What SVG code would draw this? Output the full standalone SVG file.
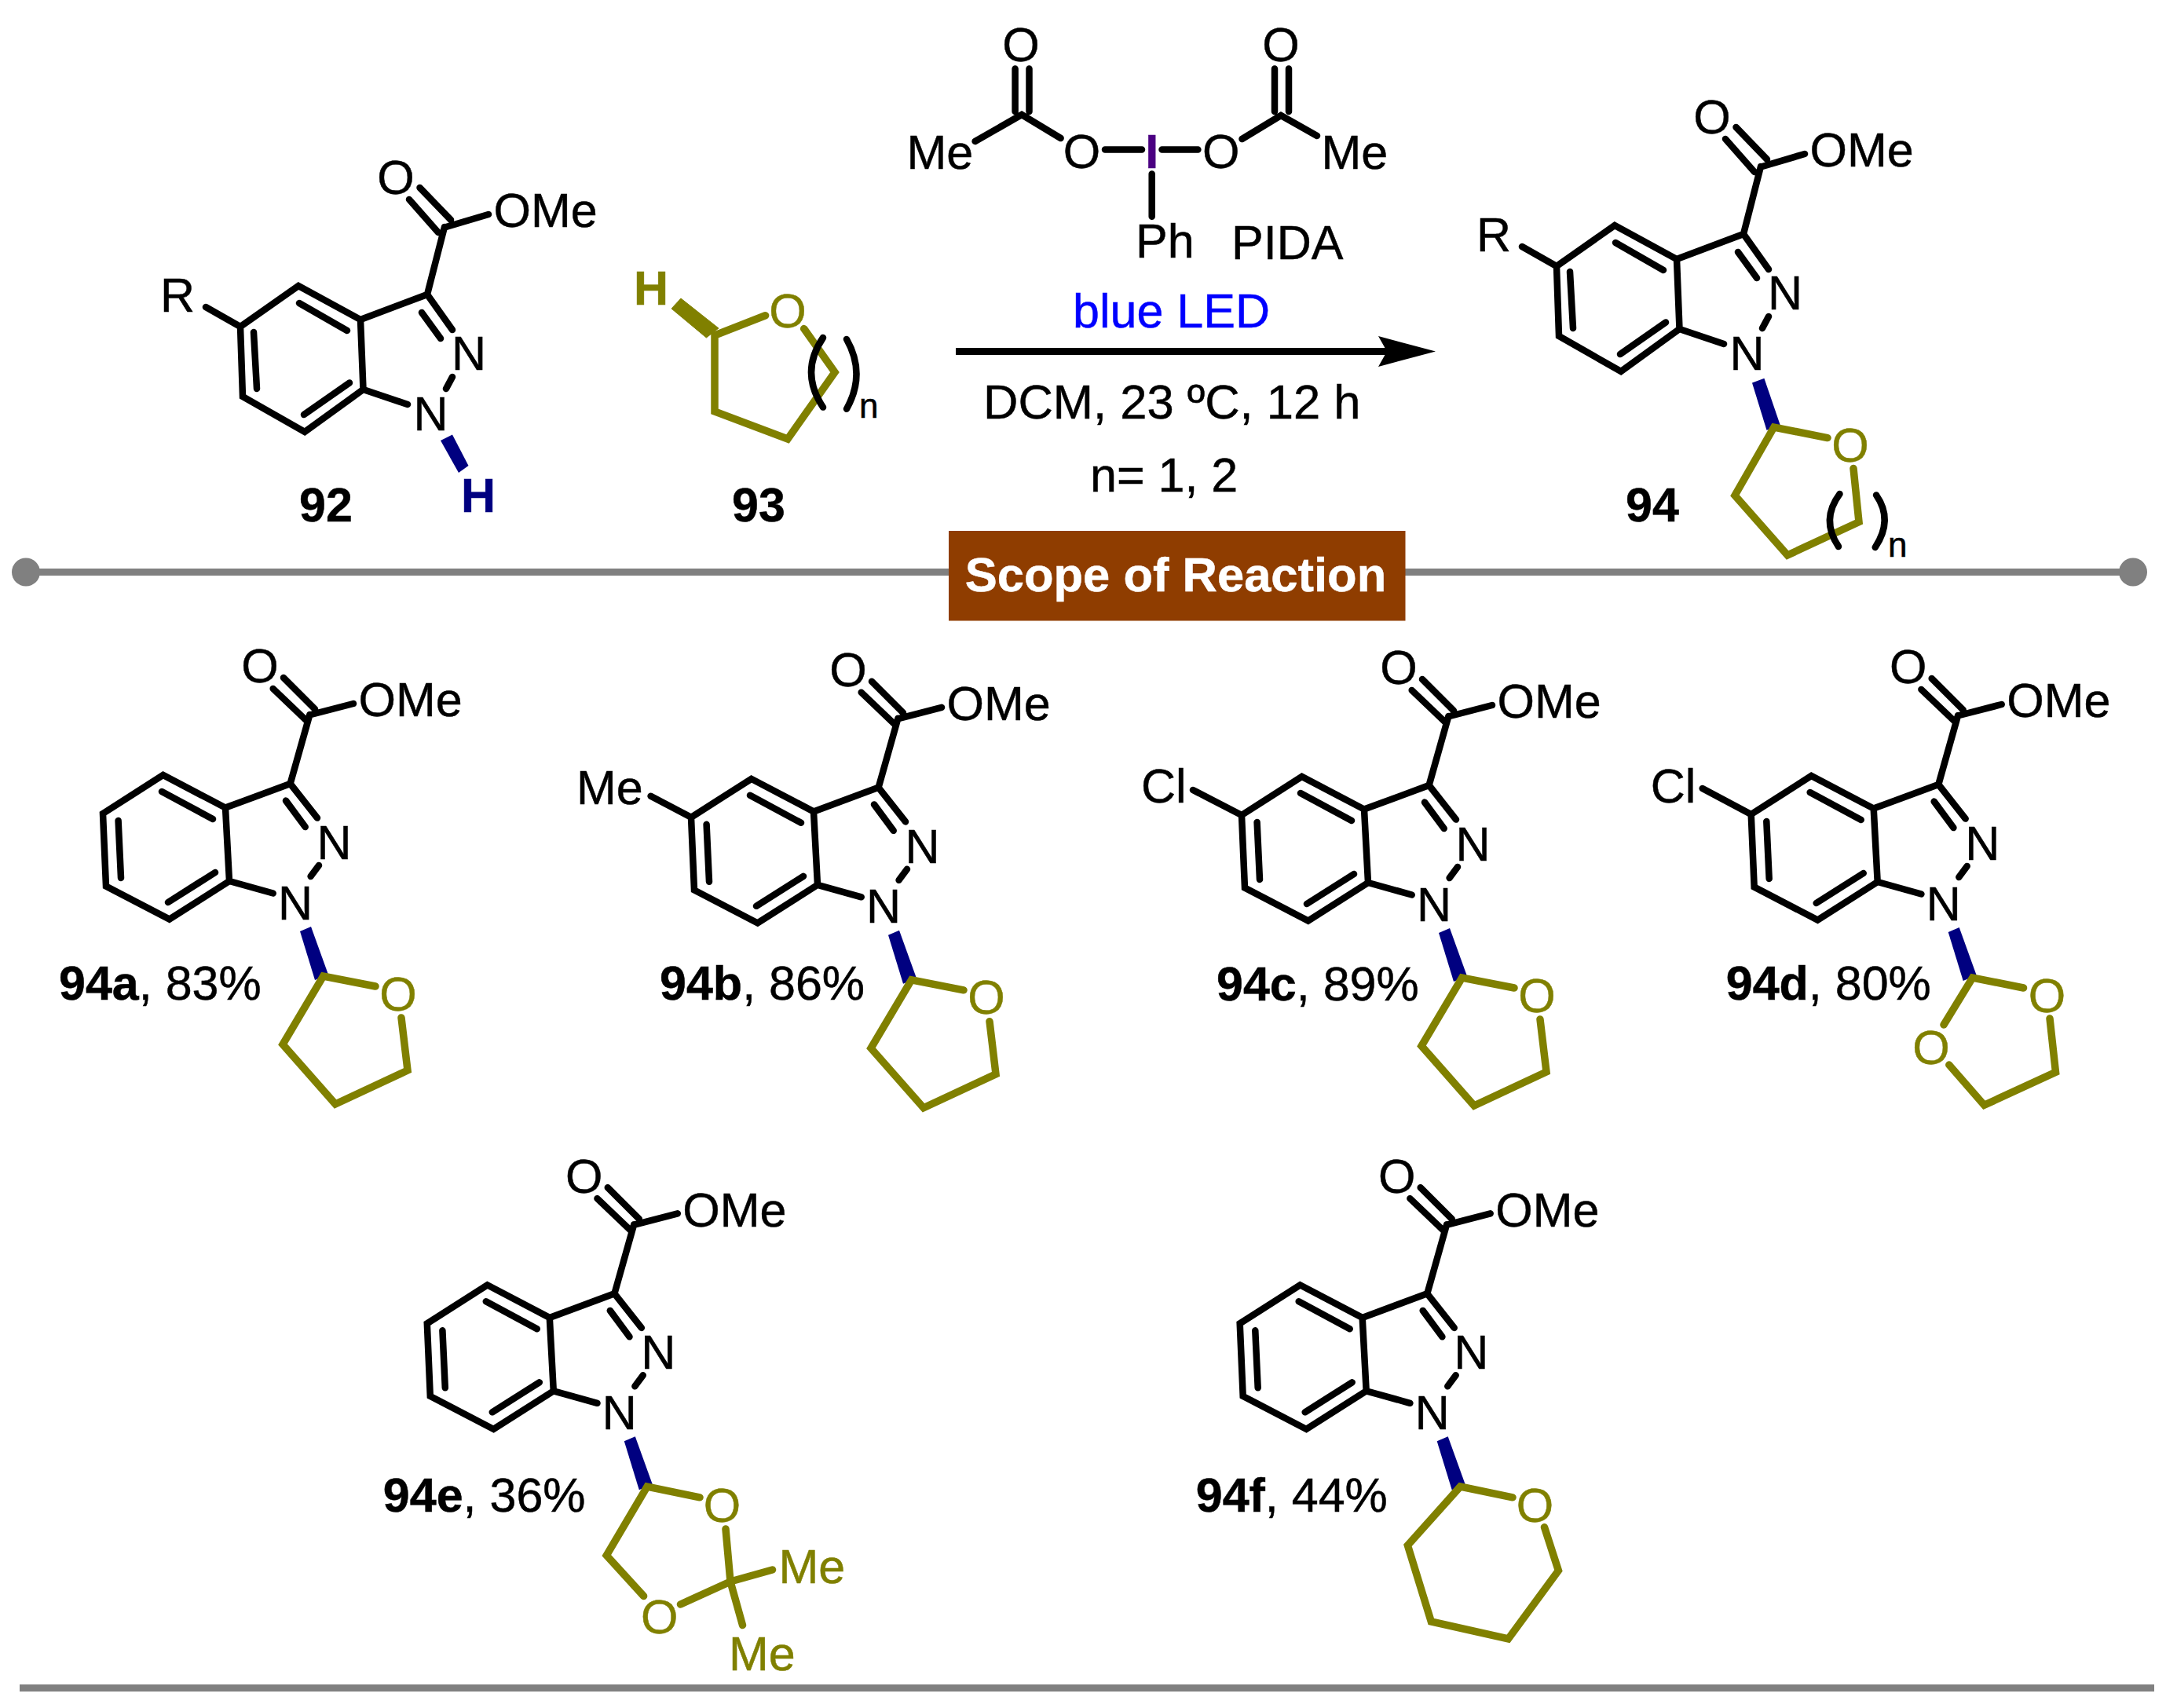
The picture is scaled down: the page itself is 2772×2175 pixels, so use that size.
<svg xmlns="http://www.w3.org/2000/svg" xmlns:xlink="http://www.w3.org/1999/xlink" width="2772" height="2175" viewBox="0 0 2772 2175">
<style>
text{font-family:"Liberation Sans",Arial,sans-serif;font-size:61px;fill:#000;stroke:#000;stroke-width:.5}
.b{font-weight:700}
.m{text-anchor:middle}
.ol{fill:#808000;stroke:#808000}
.nv{fill:#000080;stroke:#000080}
.sm{font-size:44px}
.bk,.og{fill:none;stroke-linecap:round;stroke-linejoin:miter}
.bk{stroke:#000;stroke-width:8.500}
.og{stroke:#808000;stroke-width:9.500}
.wd{fill:#000080}
.gr{stroke:#808080;stroke-width:9;fill:none}
</style>
<defs>
<path id="coreA" class="bk" d="M131 1036L207.700 987L287 1028.600L292 1122L215.700 1170.600L135 1128.600ZM287 1028.600L369.600 998L394.400 910M369.600 998L404 1041.600M364 1019.600L388.700 1053M406 1102L395.600 1116M292 1122L347.700 1137.500M206 1008L271 1043M150.600 1045L154 1118M214 1149L274 1111M390.600 918L347.700 877M401 903L361 863M396 910L450 896"/>
<path id="coreB" class="bk" d="M306 416L380 364L459 407L462.500 496L388 550L309 505ZM262 391L306 416M459 407L544 375L566 289M544 375L576 420M537 398L561 431M576 480L568 495M462.500 496L519 515M381 386L442 421M323 423L327 495M387 528L445 487.500M558 296L521 254M574 280L534.500 239M568 289L622 273"/>
<path id="thf" class="og" d="M478 1256L411.600 1243L360 1330L427 1406L519 1363L511 1296"/>
<polygon id="wedge" class="wd" points="382,1186 396,1180 418,1241 401,1248"/>
</defs>

<g id="connectors">
<line id="rule-top" class="gr" x1="33" y1="728.500" x2="2716" y2="728.500"/>
<circle cx="33" cy="728.500" r="18" fill="#808080"/>
<circle cx="2716" cy="728.500" r="18" fill="#808080"/>
<line id="rule-bottom" class="gr" x1="25" y1="2149.500" x2="2743" y2="2149.500"/>
<g id="reaction-arrow">
<rect x="1217" y="443" width="550" height="9" fill="#000"/>
<polygon points="1828,447.500 1755,428 1766,447.500 1755,467" fill="#000"/>
</g>
</g>

<g id="scope-banner">
<rect x="1208" y="676" width="581.500" height="114.500" fill="#8f3d00"/>
<text class="b m" x="1497" y="752.500" style="fill:#fff;stroke:#fff;font-size:61.500px">Scope of Reaction</text>
</g>

<g id="n92">
<use href="#coreB"/>
<polygon class="wd" points="561,561 576,553.500 596.500,593 584,602"/>
<text class="m" x="504" y="247">O</text>
<text x="628.500" y="289">OMe</text>
<text x="204" y="397">R</text>
<text class="m" x="597" y="471">N</text>
<text class="m" x="548.500" y="548">N</text>
<text class="m b nv" x="609" y="652">H</text>
<text class="b m" x="415" y="664">92</text>
</g>

<g id="n93">
<polygon class="ol" points="867,380 855,393 899.400,430 915,418"/>
<path class="og" d="M974.600 401.800L910 427L910 524L1003 559L1063 474L1023.700 418.600"/>
<path class="bk" d="M1048 430Q1018 474 1048 518.600M1078 432Q1103 476 1078 520.700"/>
<text class="ol b" x="807" y="387.500">H</text>
<text class="m ol" x="1003" y="417">O</text>
<text class="sm" x="1094" y="532">n</text>
<text class="b m" x="966" y="664">93</text>
</g>

<g id="pida">
<path class="bk" d="M1292.600 87.500L1292.600 142M1310.500 87.500L1310.500 142M1241.600 180L1301 146L1350.600 176M1407 190.500L1454 190.500M1479.500 190.500L1525.400 190.500M1466.700 221.400L1466.700 275.700M1623 87.500L1623 142M1641 87.500L1641 142M1581.500 177L1631 147L1677 173"/>
<text class="m" x="1300" y="78">O</text>
<text class="m" x="1631" y="78">O</text>
<text x="1154.500" y="215">Me</text>
<text class="m" x="1377.400" y="214">O</text>
<text class="m b" x="1466.700" y="213.600" style="fill:#4b0082;stroke:#4b0082">I</text>
<text class="m" x="1554.700" y="214">O</text>
<text x="1682.500" y="215">Me</text>
<text x="1446" y="328">Ph</text>
<text x="1568" y="330">PIDA</text>
</g>

<g id="conditions">
<text x="1366" y="417" style="fill:#0000ff;stroke:#0000ff">blue LED</text>
<text x="1252" y="533" style="font-size:61.500px">DCM, 23 ºC, 12 h</text>
<text x="1388" y="626">n= 1, 2</text>
</g>

<g id="n94">
<use href="#coreB" transform="translate(1676,-77)"/>
<polygon class="wd" points="2231,487.500 2246.400,481.700 2267,542 2249.500,547.800"/>
<path class="og" d="M2327 557.600L2258.800 544L2209 631L2276 707L2367 664.700L2360 596.400"/>
<path class="bk" d="M2342.500 629Q2318 662 2341 696M2389 630.400Q2411 662 2387.700 697"/>
<text class="m" x="2180" y="170">O</text>
<text x="2304.500" y="212">OMe</text>
<text x="1880" y="320">R</text>
<text class="m" x="2273" y="394">N</text>
<text class="m" x="2224.500" y="471">N</text>
<text class="m ol" x="2356" y="587.500">O</text>
<text class="sm" x="2404" y="709">n</text>
<text class="b m" x="2104" y="663.500">94</text>
</g>

<g id="n94a">
<use href="#coreA"/><use href="#wedge"/><use href="#thf"/>
<text class="m" x="331" y="869">O</text>
<text x="456.500" y="912">OMe</text>
<text class="m" x="425.500" y="1094">N</text>
<text class="m" x="376" y="1170.600">N</text>
<text class="m ol" x="507" y="1286.500">O</text>
<text x="75" y="1273"><tspan class="b">94a</tspan>, 83%</text>
</g>

<g id="n94b" transform="translate(749,4.800)">
<use href="#coreA"/><use href="#wedge"/><use href="#thf"/>
<text class="m" x="331" y="869">O</text>
<text x="456.500" y="912">OMe</text>
<text class="m" x="425.500" y="1094">N</text>
<text class="m" x="376" y="1170.600">N</text>
<text class="m ol" x="507" y="1286.500">O</text>
<path class="bk" d="M79.600 1009L131 1036"/>
<text x="-15" y="1019.700">Me</text>
<text x="91" y="1268.700"><tspan class="b">94b</tspan>, 86%</text>
</g>

<g id="n94c" transform="translate(1450,2)">
<use href="#coreA"/><use href="#wedge"/><use href="#thf"/>
<text class="m" x="331" y="869">O</text>
<text x="456.500" y="912">OMe</text>
<text class="m" x="425.500" y="1094">N</text>
<text class="m" x="376" y="1170.600">N</text>
<text class="m ol" x="507" y="1286.500">O</text>
<path class="bk" d="M69 1004L131 1036"/>
<text x="3" y="1019.600">Cl</text>
<text x="99" y="1271.500"><tspan class="b">94c</tspan>, 89%</text>
</g>

<g id="n94d" transform="translate(2098.700,1)">
<use href="#coreA"/><use href="#wedge"/>
<path class="og" d="M477.800 1257L413 1244L376.300 1304M383.100 1355L427.800 1406.300L518.800 1364.300L511.300 1296"/>
<text class="m" x="331" y="869">O</text>
<text x="456.500" y="912">OMe</text>
<text class="m" x="425.500" y="1094">N</text>
<text class="m" x="376" y="1170.600">N</text>
<text class="m ol" x="507.700" y="1287.600">O</text>
<text class="m ol" x="360.300" y="1354">O</text>
<path class="bk" d="M69 1003L131 1036"/>
<text x="3" y="1020.600">Cl</text>
<text x="99" y="1271.600"><tspan class="b">94d</tspan>, 80%</text>
</g>

<g id="n94e" transform="translate(412.800,649.300)">
<use href="#coreA"/><use href="#wedge"/>
<path class="og" d="M478.200 1257.500L411.200 1243.700L359.500 1331.400L406.800 1383.200M453.700 1393.700L517.200 1364.700L511.200 1297.700M517.200 1364.700L570.700 1349.700M517.200 1364.700L532.700 1420.200"/>
<text class="m" x="331" y="870">O</text>
<text x="456.500" y="913">OMe</text>
<text class="m" x="425.500" y="1094">N</text>
<text class="m" x="376" y="1170.600">N</text>
<text class="m ol" x="506.800" y="1288.400">O</text>
<text class="m ol" x="426.900" y="1430.400">O</text>
<text class="ol" x="578.700" y="1366.700">Me</text>
<text class="ol" x="515.200" y="1477.600">Me</text>
<text x="75" y="1275.500"><tspan class="b">94e</tspan>, 36%</text>
</g>

<g id="n94f" transform="translate(1447.700,649.300)">
<use href="#coreA"/><use href="#wedge"/>
<path class="og" d="M478.300 1257.500L411.700 1243.700L344.700 1318.500L374.600 1415.700L472.800 1437.700L536.700 1350.700L518.800 1295.400"/>
<text class="m" x="331" y="870">O</text>
<text x="456.500" y="913">OMe</text>
<text class="m" x="425.500" y="1094">N</text>
<text class="m" x="376" y="1170.600">N</text>
<text class="m ol" x="506.800" y="1288.400">O</text>
<text x="75" y="1275.500"><tspan class="b">94f</tspan>, 44%</text>
</g>
</svg>
